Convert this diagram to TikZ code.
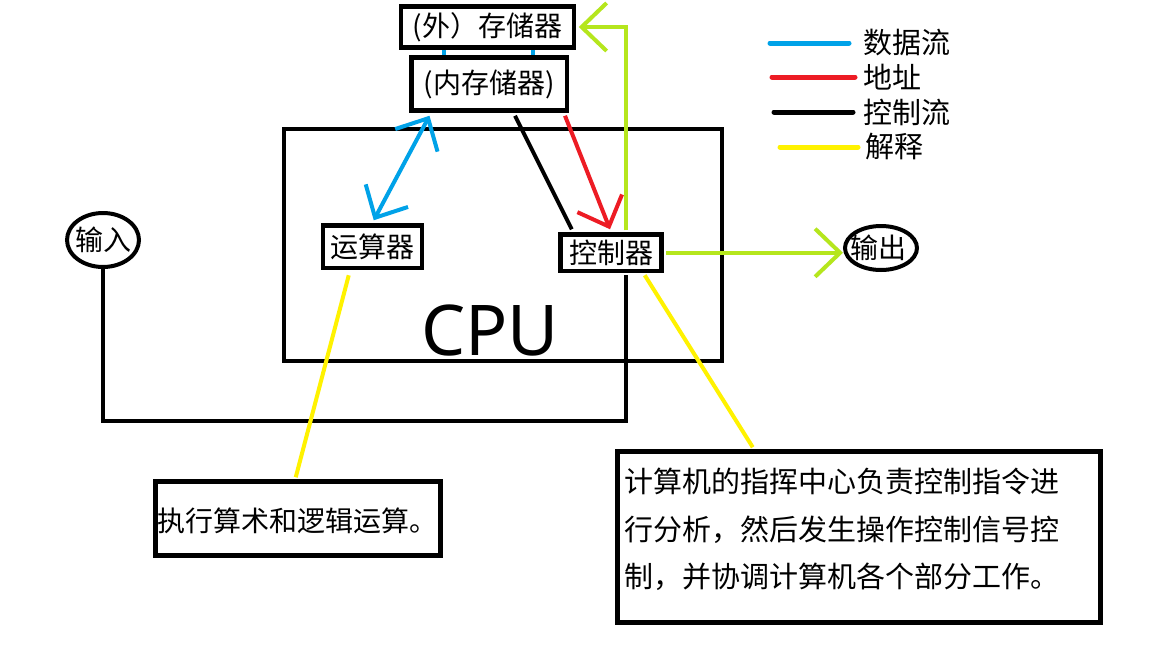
\documentclass[tikz,border=0pt]{standalone}
\usepackage{fontspec}
\setmainfont{Noto Sans}
\newfontfamily\cjk{Noto Sans CJK SC}
\usetikzlibrary{arrows.meta,shapes.geometric}
\definecolor{pblue}{RGB}{0,162,232}
\definecolor{pred}{RGB}{237,28,36}
\definecolor{plime}{RGB}{181,230,29}
\definecolor{pyellow}{RGB}{255,242,0}
\tikzset{
 box/.style={draw, line width=4.5pt, inner sep=0pt, fill=white},
 lbl/.style={inner sep=0pt, font=\cjk\fontsize{28}{28}\selectfont},
 oval/.style={draw, ellipse, line width=4pt, inner sep=0pt},
 barb/.tip={Straight Barb[length=25pt,width=48pt]},
 dataflow/.style={pblue, line width=4pt},
 addr/.style={pred, line width=4pt},
 ctrl/.style={black, line width=4pt},
 expl/.style={pyellow, line width=4pt},
 flow/.style={plime, line width=4pt},
 legend/.style={line width=5pt, line cap=round},
}
\begin{document}
\begin{tikzpicture}[x=1pt,y=-1pt]
\fill[white] (0,0) rectangle (1152,648);
\useasboundingbox (0,0) rectangle (1152,648);

% boxes
\node[box, minimum width=438, minimum height=232] (cpu) at (503,245) {};
\node[inner sep=0pt, font=\fontsize{70}{70}\selectfont] (cputxt) at (490,331) {CPU};
\node[box, lbl, minimum width=173, minimum height=41] (ext) at (487.5,27) {(外）存储器};
\node[box, lbl, minimum width=155.5, minimum height=53] (mem) at (489,84) {(内存储器)};
\node[box, lbl, minimum width=99, minimum height=42.5] (alu) at (372.5,246.75) {运算器};
\node[box, lbl, minimum width=101, minimum height=36.5] (ctl) at (611,252.75) {控制器};

\node[oval, minimum width=72, minimum height=54] (in) at (103,240) {};
\node[lbl] (inT) at (103,240) {输入};
\node[oval, minimum width=72, minimum height=44] (out) at (881,248) {};
\node[lbl] (outT) at (878.5,248) {输出};

\node[box, minimum width=285, minimum height=74] (b1) at (298,518.5) {};
\node[lbl, anchor=west] (b1T) at (157,521) {执行算术和逻辑运算。};
\node[box, minimum width=483, minimum height=171] (b2) at (859,537) {};
\node[inner sep=0pt, anchor=west, align=left, font=\cjk\fontsize{29}{47.5}\selectfont] (b2T) at (624,529.5)
 {计算机的指挥中心负责控制指令进\\行分析，然后发生操作控制信号控\\制，并协调计算机各个部分工作。};

% connectors
\draw[dataflow] ([xshift=-43.5]ext.south) -- ([xshift=-45]mem.north);
\draw[dataflow] ([xshift=45.5]ext.south) -- ([xshift=44]mem.north);
\draw[dataflow, barb-barb] ([xshift=20.5,yshift=-3]mem.south west) -- ([xshift=53,yshift=3]alu.north west);
\draw[ctrl] ([xshift=106,yshift=-3]mem.south west) -- ([xshift=13.5,yshift=3]ctl.north west);
\draw[addr, -barb] ([xshift=-4,yshift=-3]mem.south east) -- ([xshift=-1,yshift=3]ctl.north);
\draw[flow, -barb] ([xshift=67.5,yshift=2]ctl.north west) |- ([xshift=2.5]ext.east);
\draw[flow, -barb] ([xshift=2.5]ctl.east) -- (ctl.east -| out.west);
\coordinate (loopR) at (626,421);
\draw[ctrl] (in.south) |- (loopR) -- ([yshift=-2]loopR |- ctl.south);
\draw[expl] ([xshift=28,yshift=-5]alu.south west) -- ([xshift=142.5,yshift=2]b1.north west);
\draw[expl] ([xshift=86.5,yshift=-2]ctl.south west) -- ([xshift=137.5,yshift=2]b2.north west);

% legend
\node[lbl, font=\cjk\fontsize{29}{29}\selectfont, anchor=west] (lg1) at (863,43) {数据流};
\node[lbl, font=\cjk\fontsize{29}{29}\selectfont, anchor=west] (lg2) at (863,77) {地址};
\node[lbl, font=\cjk\fontsize{29}{29}\selectfont, anchor=west] (lg3) at (863,112) {控制流};
\node[lbl, font=\cjk\fontsize{29}{29}\selectfont, anchor=west] (lg4) at (865,147) {解释};
\draw[legend, pblue] ([xshift=-14]lg1.west) -- ++(-79,0);
\draw[legend, pred] ([xshift=-8]lg2.west) -- ++(-83,0);
\draw[legend, black] ([xshift=-10]lg3.west) -- ++(-79,0);
\draw[legend, pyellow] ([xshift=-7]lg4.west) -- ++(-78,0);
\end{tikzpicture}
\end{document}
